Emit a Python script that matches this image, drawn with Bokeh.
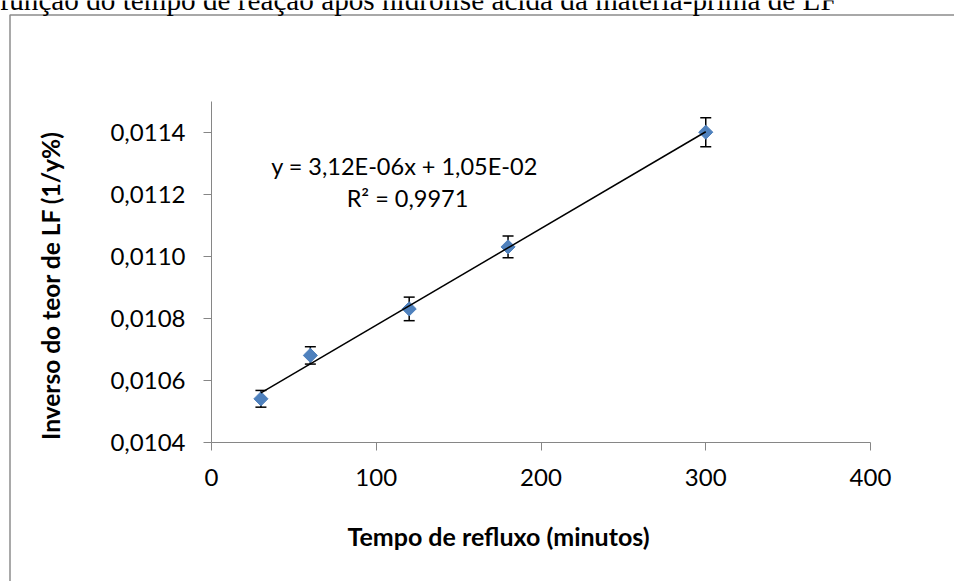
import numpy as np
from bokeh.plotting import figure
from bokeh.models import (Range1d, FixedTicker, CustomJSTickFormatter, Whisker,
                          TeeHead, ColumnDataSource, Label, BoxAnnotation)
from bokeh.embed import file_html
from bokeh.resources import INLINE

# Reflux time (min) vs. inverse LF content (1/y%), with standard deviations
tempo = [30, 60, 120, 180, 300]
inverso = [0.01054, 0.01068, 0.01083, 0.01103, 0.01140]
desvio = [0.000027, 0.000028, 0.000038, 0.000035, 0.000047]

x_ticks = [0, 100, 200, 300, 400]
y_ticks = [0.0104, 0.0106, 0.0108, 0.0110, 0.0112, 0.0114]
y_tick_labels = ["0,0104", "0,0106", "0,0108", "0,0110", "0,0112", "0,0114"]

titulo = "função do tempo de reação após hidrólise ácida da matéria-prima de LF"
eixo_x = "Tempo de refluxo (minutos)"
eixo_y = "Inverso do teor de LF (1/y%)"
equacao = "y = 3,12E-06x + 1,05E-02"
r2 = "R² = 0,9971"

SANS = "Lato"
AXIS_GREY = "#868686"

W, H = 954, 581
# plot area inside the page (pixels from the top-left corner)
AREA_L, AREA_R, AREA_T, AREA_B = 211, 870, 100.7, 441.7
X0, X1 = 0, 400
Y0, Y1 = 0.0104, 0.0115

# the frame spans the whole page; ranges are extended so that the
# axis box (X0..X1, Y0..Y1) lands on the plot area
sx = (AREA_R - AREA_L) / (X1 - X0)
sy = (AREA_B - AREA_T) / (Y1 - Y0)
x_range = Range1d(X0 - AREA_L / sx, X1 + (W - AREA_R) / sx)
y_range = Range1d(Y0 - (H - AREA_B) / sy, Y1 + AREA_T / sy)

p = figure(width=W, height=H, output_backend="svg", toolbar_location=None,
           title_location=None, x_range=x_range, y_range=y_range,
           min_border=0)
p.outline_line_color = None
p.xgrid.visible = False
p.ygrid.visible = False
p.background_fill_color = "white"
p.border_fill_color = "white"

# axes pinned to the plot area
p.xaxis.ticker = FixedTicker(ticks=x_ticks)
p.yaxis.ticker = FixedTicker(ticks=y_ticks)
p.xaxis.fixed_location = Y0
p.yaxis.fixed_location = X0
p.xaxis.bounds = (X0, X1)
p.yaxis.bounds = (Y0, Y1)
p.yaxis.formatter = CustomJSTickFormatter(
    args=dict(tick_values=y_ticks, tick_labels=y_tick_labels),
    code="""
    let best = 0;
    for (let i = 0; i < tick_values.length; i++) {
        if (Math.abs(tick_values[i] - tick) < Math.abs(tick_values[best] - tick)) best = i;
    }
    return tick_labels[best];
    """)
for ax in (p.xaxis, p.yaxis):
    ax.axis_line_color = AXIS_GREY
    ax.axis_line_width = 1
    ax.major_tick_line_color = AXIS_GREY
    ax.major_tick_in = 0
    ax.major_tick_out = 8
    ax.minor_tick_line_color = None
    ax.major_label_text_font = SANS
    ax.major_label_text_font_size = "24px"
    ax.major_label_text_color = "black"
p.xaxis.major_label_standoff = 19
p.yaxis.major_label_standoff = 18

# error bars below the markers
src = ColumnDataSource(dict(
    x=tempo, y=inverso,
    upper=[v + e for v, e in zip(inverso, desvio)],
    lower=[v - e for v, e in zip(inverso, desvio)],
))
whisker = Whisker(base="x", upper="upper", lower="lower", source=src,
                  line_color="black", line_width=1.5, level="underlay",
                  upper_head=TeeHead(size=11, line_color="black", line_width=1.5),
                  lower_head=TeeHead(size=11, line_color="black", line_width=1.5))
p.add_layout(whisker)

# diamond markers
p.scatter("x", "y", source=src, marker="square", size=10, angle=np.pi / 4,
          fill_color="#4F81BD", line_color="#4F81BD")

# linear trend line over the data range
coef = np.polyfit(tempo, inverso, 1)
xs = np.array([min(tempo), max(tempo)])
p.line(xs, np.polyval(coef, xs), line_color="black", line_width=1.5)


def text_label(x, y, text, size, font=SANS, style="normal", angle=0.0, align="center"):
    return Label(x=x, y=y, x_units="canvas", y_units="canvas", text=text,
                 angle=angle, text_font=font, text_font_size=size,
                 text_font_style=style, text_color="black",
                 text_align=align, text_baseline="middle")


# equation of the trend line
p.add_layout(text_label(404, 165, equacao, "23.5px"))
p.add_layout(text_label(407, 197, r2, "23.5px"))

# axis titles
p.add_layout(text_label(498, 535, eixo_x, "25px", style="bold"))
p.add_layout(text_label(50, 285, eixo_y, "24.5px", style="bold", angle=np.pi / 2))

# chart area border
p.add_layout(BoxAnnotation(left=9.5, right=1200, top=14.5, bottom=900,
                           left_units="canvas", right_units="canvas",
                           top_units="canvas", bottom_units="canvas",
                           fill_alpha=0, line_color="#8c8c8c", line_alpha=1.0,
                           line_width=1.5))

# caption line above the chart area
p.add_layout(text_label(-1, -1, titulo, "29.2px", font="Liberation Serif", align="left"))

open("out.html", "w").write(file_html(p, INLINE))
